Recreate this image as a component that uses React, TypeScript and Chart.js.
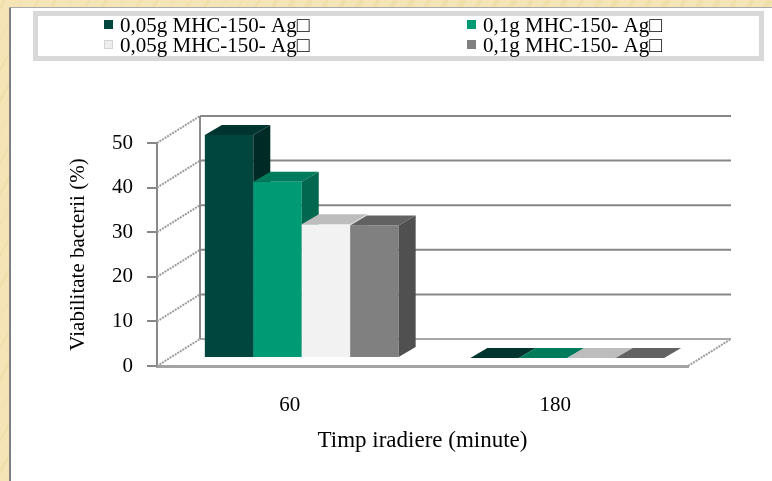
import React, { useEffect, useRef } from "react";
import { Chart, registerables } from "chart.js";

Chart.register(...registerables);

// ---- data ----
const categories = ["60", "180"];
const seriesLabels = [
  "0,05g MHC-150- Ag\u25A1",
  "0,1g MHC-150- Ag\u25A1",
  "0,05g MHC-150- Ag\u25A1",
  "0,1g MHC-150- Ag\u25A1",
];
const series1 = [50, 0];
const series2 = [39.5, 0];
const series3 = [30, 0];
const series4 = [29.7, 0];
const yTicks = [0, 10, 20, 30, 40, 50];
const xTitle = "Timp iradiere (minute)";
const yTitle = "Viabilitate bacterii (%)";

// ---- styles ----
const seriesData = [series1, series2, series3, series4];
const seriesStyles = [
  { front: "#00463f", top: "#00342e", side: "#002a25", legend: "#00463f", legendBorder: "" },
  { front: "#009b74", top: "#007c5c", side: "#00684e", legend: "#009b74", legendBorder: "" },
  { front: "#f2f2f2", top: "#bdbdbd", side: "#d6d6d6", legend: "#eeeeee", legendBorder: "#d4d4d4" },
  { front: "#808080", top: "#626262", side: "#505050", legend: "#808080", legendBorder: "" },
];
const FONT = '"Liberation Serif", "Times New Roman", serif';
// depth of the 3D box (back wall offset)
const WX = 43, WY = -27;
// bar plane offset from front plane
const BX = 12, BY = -8;
// bar depth
const DX = 17, DY = -10;
// legend layout
const LEG_COL_X = [104, 467];
const LEG_ROW_Y = [32, 52];

function line(ctx: CanvasRenderingContext2D, x1: number, y1: number, x2: number, y2: number) {
  ctx.beginPath();
  ctx.moveTo(x1, y1);
  ctx.lineTo(x2, y2);
  ctx.stroke();
}
function poly(ctx: CanvasRenderingContext2D, pts: number[][], fill: string) {
  ctx.beginPath();
  ctx.moveTo(pts[0][0], pts[0][1]);
  for (let i = 1; i < pts.length; i++) ctx.lineTo(pts[i][0], pts[i][1]);
  ctx.closePath();
  ctx.fillStyle = fill;
  ctx.fill();
}

const backgroundPlugin = {
  id: "bgAndLegend",
  beforeDraw(chart: any) {
    const { ctx, width, height } = chart;
    ctx.save();
    ctx.fillStyle = "#f5e4b5";
    ctx.fillRect(0, 0, width, height);
    // soft diagonal streaks (texture)
    for (let i = -height; i < width; i += 17) {
      ctx.strokeStyle = (i / 17) % 2 === 0 ? "rgba(255,248,225,0.55)" : "rgba(236,214,160,0.45)";
      ctx.lineWidth = 3 + ((i / 17) % 3);
      line(ctx, i, height, i + height * 0.55, 0);
    }
    // white panel
    ctx.fillStyle = "#ffffff";
    ctx.fillRect(11, 8, width - 11, height - 8);
    ctx.fillStyle = "#808080";
    ctx.fillRect(9, 7, 2, height - 7);
    ctx.fillStyle = "#aaaaaa";
    ctx.fillRect(9, 7, width - 9, 1);

    // legend box
    ctx.fillStyle = "#d9d9d9";
    ctx.fillRect(33, 11, 731, 50);
    ctx.fillStyle = "#ffffff";
    ctx.fillRect(38, 16, 721, 40);
    chart.data.datasets.forEach((ds: any, i: number) => {
      const col = i % 2;
      const row = Math.floor(i / 2);
      const x = LEG_COL_X[col];
      const base = LEG_ROW_Y[row];
      const st = seriesStyles[i];
      ctx.fillStyle = st.legend;
      ctx.fillRect(x, base - 12, 9, 9);
      if (st.legendBorder) {
        ctx.strokeStyle = st.legendBorder;
        ctx.lineWidth = 1;
        ctx.strokeRect(x + 0.5, base - 11.5, 8, 8);
      }
      ctx.fillStyle = "#000000";
      ctx.font = "21px " + FONT;
      ctx.textBaseline = "alphabetic";
      ctx.textAlign = "left";
      ctx.fillText(ds.label, x + 16, base);
    });
    ctx.restore();
  },
  beforeDatasetsDraw(chart: any) {
    const { ctx } = chart;
    const { left, right, top, bottom } = chart.chartArea;
    const y = chart.scales.y;
    ctx.save();
    // side wall diagonals + floor right edge
    ctx.strokeStyle = "#9c9c9c";
    ctx.lineWidth = 2;
    ctx.setLineDash([2, 1]);
    yTicks.forEach((v) => {
      const py = y.getPixelForValue(v);
      line(ctx, left, py, left + WX, py + WY);
    });
    line(ctx, right, bottom, right + WX, bottom + WY);
    ctx.setLineDash([]);
    // back wall gridlines
    yTicks.forEach((v) => {
      const py = y.getPixelForValue(v);
      ctx.strokeStyle = v === 0 ? "#a8a8a8" : "#878787";
      line(ctx, left + WX, py + WY, right + WX, py + WY);
    });
    // back wall left edge
    ctx.strokeStyle = "#8c8c8c";
    line(ctx, left + WX, top + WY, left + WX, bottom + WY);
    ctx.restore();
  },
  afterDatasetsDraw(chart: any) {
    const { ctx } = chart;
    const metas = chart.data.datasets.map((_: any, i: number) => chart.getDatasetMeta(i));
    ctx.save();
    for (let j = 0; j < categories.length; j++) {
      metas.forEach((meta: any, i: number) => {
        const el = meta.data[j];
        if (!el) return;
        const st = seriesStyles[i];
        const x0 = el.x - el.width / 2 + BX;
        const x1 = el.x + el.width / 2 + BX;
        const yt = el.y + BY;
        const yb = el.base + BY;
        ctx.fillStyle = st.front;
        ctx.fillRect(x0, yt, x1 - x0, yb - yt);
        poly(ctx, [[x0, yt], [x1, yt], [x1 + DX, yt + DY], [x0 + DX, yt + DY]], st.top);
        poly(ctx, [[x1, yt], [x1 + DX, yt + DY], [x1 + DX, yb + DY], [x1, yb]], st.side);
      });
    }
    ctx.restore();
  },
};

export default function App() {
  const ref = useRef<HTMLCanvasElement>(null);
  useEffect(() => {
    if (!ref.current) return;
    Chart.defaults.font.family = FONT;
    const chart = new Chart(ref.current, {
      type: "bar",
      data: {
        labels: categories,
        datasets: seriesLabels.map((label, i) => ({
          label,
          data: seriesData[i],
          backgroundColor: "rgba(0,0,0,0)",
          borderWidth: 0,
          categoryPercentage: 0.73,
          barPercentage: 1,
        })),
      },
      options: {
        responsive: false,
        animation: false,
        layout: { padding: { left: 0, right: 84, top: 143, bottom: 0 } },
        plugins: { legend: { display: false }, tooltip: { enabled: false } },
        scales: {
          x: {
            type: "category",
            grid: { display: false },
            border: { display: true, color: "#a3a3a3", width: 3 },
            ticks: { font: { size: 21, family: FONT }, color: "#000", padding: 19 },
            title: {
              display: true,
              text: xTitle,
              font: { size: 23, family: FONT },
              color: "#000",
              padding: { top: 0, bottom: 26 },
            },
            afterFit: (s: any) => {
              s.height = 115;
            },
          },
          y: {
            min: 0,
            max: 50,
            ticks: { stepSize: 10, font: { size: 21, family: FONT }, color: "#000", padding: 14 },
            grid: { drawOnChartArea: false, drawTicks: true, tickLength: 10, color: "#888", lineWidth: 2 },
            border: { display: true, color: "#888", width: 2 },
            title: {
              display: true,
              text: yTitle,
              font: { size: 21, family: FONT },
              color: "#000",
              padding: { top: 66, bottom: 0 },
            },
            afterFit: (s: any) => {
              s.width = 157;
            },
          },
        },
      },
      plugins: [backgroundPlugin],
    } as any);
    return () => chart.destroy();
  }, []);
  return (
    <div style={{ position: "absolute", left: 0, top: 0, width: 772, height: 481 }}>
      <canvas ref={ref} width={772} height={481} style={{ display: "block" }} />
    </div>
  );
}
